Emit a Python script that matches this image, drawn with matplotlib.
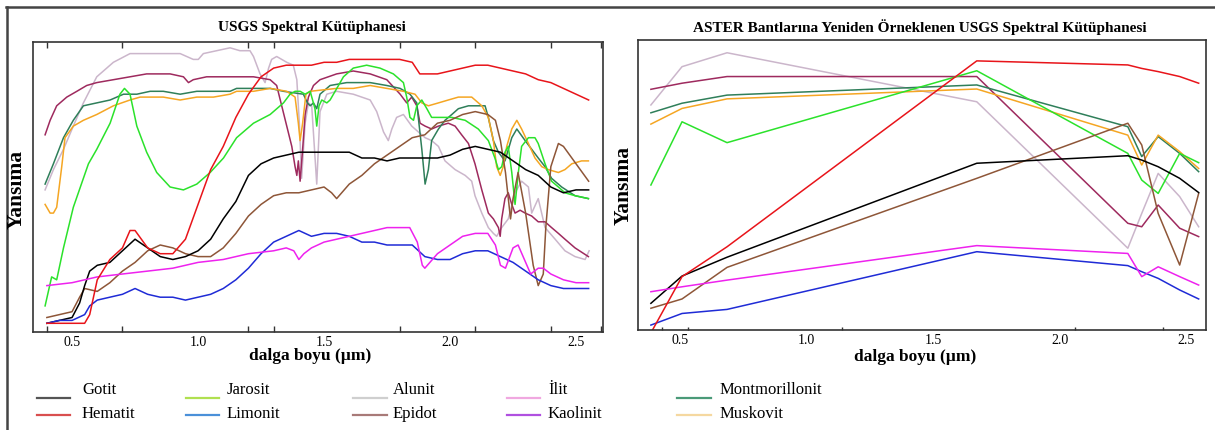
import matplotlib.pyplot as plt
from matplotlib.lines import Line2D
import numpy as np

plt.rcParams['font.family'] = ['Liberation Serif', 'DejaVu Serif']

W, H = 1215, 430

minerals = ["Gotit", "Hematit", "Jarosit", "Limonit", "Alunit",
            "Epidot", "İlit", "Kaolinit", "Montmorillonit", "Muskovit"]

# colours of the plotted spectra
line_colors = {"Gotit": "#000000", "Hematit": "#e8141a", "Jarosit": "#2be22b",
               "Limonit": "#1f2bd6", "Alunit": "#cbb6cb", "Epidot": "#8e5638",
               "İlit": "#ee22ee", "Kaolinit": "#9e2a5e", "Montmorillonit": "#2f7f5a",
               "Muskovit": "#f5a623"}
# the legend swatches in the original don't match the line colours exactly
legend_colors = {"Gotit": "#555555", "Hematit": "#d94f4f", "Jarosit": "#b0e050",
                 "Limonit": "#4a90d9", "Alunit": "#cfcfcf", "Epidot": "#a87a78",
                 "İlit": "#f0a8e0", "Kaolinit": "#b050e0", "Montmorillonit": "#4a9a78",
                 "Muskovit": "#f5d8a0"}

#### USGS library spectra, (wavelength um, reflectance %) ####
gotit = [(0.40,3),(0.45,4),(0.50,5),(0.53,10),(0.55,16),(0.57,21),(0.60,23),(0.65,24),(0.70,28),
         (0.75,32),(0.80,29),(0.85,26),(0.90,25),(0.95,26),(1.00,28),(1.05,32),(1.10,39),(1.15,45),
         (1.20,54),(1.25,58),(1.30,60),(1.35,61),(1.40,62),(1.45,62),(1.50,62),(1.55,62),(1.60,62),
         (1.65,60),(1.70,60),(1.75,59),(1.80,60),(1.85,60),(1.90,60),(1.95,60),(2.00,61),(2.05,63),
         (2.10,64),(2.15,63),(2.20,62),(2.25,59),(2.30,56),(2.35,54),(2.40,50),(2.45,48),(2.50,49),
         (2.55,49)]
hematit = [(0.40,3),(0.45,3),(0.50,3),(0.55,3),(0.57,6),(0.60,18),(0.65,25),(0.70,29),(0.73,35),
           (0.75,35),(0.80,29),(0.85,27),(0.90,27),(0.95,32),(1.00,44),(1.05,56),(1.10,64),(1.15,74),
           (1.20,82),(1.25,88),(1.30,91),(1.35,92),(1.40,92),(1.45,92),(1.50,93),(1.55,93),(1.60,94),
           (1.65,94),(1.70,94),(1.75,94),(1.80,94),(1.85,93),(1.88,89),(1.90,89),(1.95,89),(2.00,90),
           (2.05,91),(2.10,92),(2.15,92),(2.20,91),(2.25,90),(2.30,89),(2.35,87),(2.40,86),(2.45,84),
           (2.50,82),(2.55,80)]
jarosit = [(0.393,9),(0.419,19),(0.439,18),(0.466,29),(0.505,43),(0.565,58),(0.598,63),(0.651,72),
           (0.690,82),(0.708,84),(0.730,82),(0.757,71),(0.796,62),(0.836,55),(0.889,50),(0.942,49),
           (0.995,51),(1.048,55),(1.101,60),(1.153,67),(1.220,72),(1.286,75),(1.339,79),(1.365,82),
           (1.385,83),(1.405,83),(1.425,82),(1.445,83),(1.464,77),(1.471,71),(1.480,78),(1.491,80),
           (1.511,79),(1.524,80),(1.544,83),(1.577,88),(1.616,91),(1.669,92),(1.722,91),(1.775,89),
           (1.815,86),(1.828,81),(1.841,74),(1.855,73),(1.868,78),(1.888,80),(1.908,77),(1.927,74),
           (1.954,74),(2.007,74),(2.060,73),(2.112,70),(2.152,66),(2.178,60),(2.192,56),(2.205,57),
           (2.218,62),(2.231,64),(2.245,55),(2.258,44),(2.271,55),(2.284,64),(2.311,67),(2.337,67),
           (2.350,65),(2.377,58),(2.403,52),(2.430,50),(2.456,48),(2.496,47),(2.549,46)]
limonit = [(0.40,3),(0.45,4),(0.50,4),(0.55,6),(0.57,9),(0.60,11),(0.65,12),(0.70,13),(0.75,15),
           (0.80,13),(0.85,12),(0.90,12),(0.95,11),(1.00,12),(1.05,13),(1.10,15),(1.15,18),(1.20,22),
           (1.25,27),(1.30,31),(1.35,33),(1.40,35),(1.45,33),(1.50,34),(1.55,34),(1.60,33),(1.65,31),
           (1.70,31),(1.75,30),(1.80,30),(1.85,30),(1.90,26),(1.95,25),(2.00,25),(2.05,27),(2.10,28),
           (2.15,28),(2.20,26),(2.25,24),(2.30,21),(2.35,18),(2.40,16),(2.45,15),(2.50,15),(2.55,15)]
alunit = [(0.393,49),(0.426,56),(0.466,63),(0.505,71),(0.545,79),(0.598,88),(0.664,93),(0.730,96),
          (0.796,96),(0.862,96),(0.929,96),(0.981,94),(1.001,94),(1.021,96),(1.074,97),(1.127,98),
          (1.166,97),(1.193,97),(1.206,97),(1.220,95),(1.246,89),(1.266,86),(1.280,91),(1.292,94),
          (1.312,95),(1.352,93),(1.378,92),(1.392,87),(1.402,72),(1.411,53),(1.425,72),(1.438,79),
          (1.451,78),(1.471,51),(1.484,76),(1.511,82),(1.550,83),(1.616,82),(1.683,80),(1.709,76),
          (1.736,69),(1.755,66),(1.769,70),(1.788,74),(1.815,75),(1.848,71),(1.874,69),(1.901,67),
          (1.927,66),(1.954,64),(1.980,59),(2.020,56),(2.060,54),(2.086,52),(2.099,47),(2.126,41),
          (2.152,36),(2.172,34),(2.185,33),(2.205,36),(2.231,39),(2.258,48),(2.284,52),(2.311,50),
          (2.324,41),(2.350,46),(2.377,36),(2.417,32),(2.456,28),(2.496,26),(2.536,25),(2.552,28)]
epidot = [(0.40,5),(0.45,6),(0.50,7),(0.53,12),(0.55,15),(0.60,14),(0.65,17),(0.70,21),(0.75,24),
          (0.80,28),(0.85,30),(0.90,29),(0.95,27),(1.00,26),(1.05,26),(1.10,29),(1.15,34),(1.20,40),
          (1.25,44),(1.30,47),(1.35,48),(1.40,48),(1.45,49),(1.50,50),(1.53,48),(1.55,46),(1.60,51),
          (1.65,54),(1.70,58),(1.75,61),(1.80,64),(1.85,67),(1.90,68),(1.95,72),(2.00,73),(2.05,75),
          (2.10,76),(2.15,75),(2.18,73),(2.20,66),(2.22,55),(2.24,39),(2.25,46),(2.27,55),(2.30,41),
          (2.33,23),(2.35,16),(2.37,20),(2.38,36),(2.40,57),(2.43,65),(2.45,64),(2.50,58),(2.55,52)]
ilit = [(0.40,16),(0.50,17),(0.60,19),(0.70,20),(0.80,21),(0.90,22),(1.00,24),(1.10,25),(1.20,27),
        (1.30,28),(1.35,29),(1.38,28),(1.40,25),(1.42,27),(1.45,29),(1.50,31),(1.55,32),(1.60,33),
        (1.65,34),(1.70,35),(1.75,36),(1.80,36),(1.84,36),(1.87,31),(1.89,23),(1.90,22),(1.93,25),
        (1.95,27),(2.00,30),(2.05,33),(2.10,34),(2.15,34),(2.18,30),(2.20,23),(2.22,22),(2.25,29),
        (2.27,30),(2.30,24),(2.32,20),(2.35,22),(2.37,22),(2.40,20),(2.45,18),(2.50,17),(2.55,17)]
kaolinit = [(0.393,68),(0.413,73),(0.439,78),(0.479,81),(0.519,83),(0.558,85),(0.598,86),(0.664,87),
            (0.730,88),(0.796,89),(0.836,89),(0.889,89),(0.942,88),(0.962,86),(0.981,87),(1.034,88),
            (1.127,88),(1.220,88),(1.286,87),(1.312,85),(1.332,78),(1.352,71),(1.372,64),(1.385,57),
            (1.392,54),(1.398,59),(1.405,52),(1.415,63),(1.425,75),(1.438,81),(1.458,85),(1.484,87),
            (1.550,89),(1.616,90),(1.683,89),(1.749,87),(1.802,82),(1.828,79),(1.848,81),(1.868,78),
            (1.881,72),(1.901,71),(1.927,70),(1.954,71),(1.993,72),(2.020,71),(2.046,68),(2.073,65),
            (2.099,58),(2.126,49),(2.152,41),(2.172,39),(2.192,36),(2.199,33),(2.205,39),(2.218,46),
            (2.231,48),(2.245,44),(2.258,41),(2.278,42),(2.298,41),(2.324,40),(2.350,38),(2.377,38),
            (2.403,36),(2.430,34),(2.456,32),(2.496,29),(2.549,26)]
montmorillonit = [(0.393,51),(0.426,58),(0.466,67),(0.505,73),(0.545,78),(0.598,79),(0.651,80),
                  (0.704,82),(0.757,82),(0.810,83),(0.862,83),(0.929,82),(0.995,83),(1.061,83),
                  (1.127,83),(1.153,84),(1.220,84),(1.286,84),(1.339,83),(1.418,82),(1.434,79),
                  (1.445,78),(1.458,79),(1.471,77),(1.484,82),(1.524,85),(1.590,86),(1.683,86),
                  (1.749,85),(1.802,84),(1.841,82),(1.868,79),(1.874,74),(1.888,63),(1.901,51),
                  (1.914,56),(1.927,66),(1.954,70),(1.980,73),(2.007,75),(2.033,77),(2.073,78),
                  (2.112,78),(2.139,78),(2.152,74),(2.172,66),(2.192,62),(2.218,59),(2.245,67),
                  (2.265,70),(2.298,66),(2.324,63),(2.350,60),(2.377,57),(2.403,53),(2.443,50),
                  (2.496,47),(2.549,46)]
muskovit = [(0.393,44),(0.413,41),(0.426,41),(0.439,43),(0.459,57),(0.472,67),(0.505,71),(0.545,73),
            (0.598,75),(0.664,78),(0.730,80),(0.770,81),(0.862,81),(0.929,80),(0.995,81),(1.061,81),
            (1.127,82),(1.153,83),(1.220,83),(1.286,84),(1.352,83),(1.385,81),(1.398,72),(1.405,66),
            (1.415,72),(1.428,82),(1.445,83),(1.550,84),(1.616,84),(1.683,85),(1.749,84),(1.815,83),
            (1.861,82),(1.888,79),(1.914,78),(1.954,79),(1.993,80),(2.033,81),(2.086,81),(2.126,78),
            (2.152,74),(2.172,66),(2.185,57),(2.199,54),(2.211,57),(2.225,64),(2.245,70),(2.265,73),
            (2.284,70),(2.311,65),(2.337,60),(2.364,57),(2.390,56),(2.430,55),(2.456,56),(2.483,58),
            (2.522,59),(2.549,59)]

usgs = {"Gotit": gotit, "Hematit": hematit, "Jarosit": jarosit, "Limonit": limonit,
        "Alunit": alunit, "Epidot": epidot, "İlit": ilit, "Kaolinit": kaolinit,
        "Montmorillonit": montmorillonit, "Muskovit": muskovit}

#### Same library resampled to ASTER bands ####
aster_wl = [0.385, 0.508, 0.686, 1.673, 2.27, 2.325, 2.39, 2.475, 2.55]
aster_gotit = [9.2, 18.6, 25.1, 57.5, 60.1, 58.6, 56.3, 52.3, 47.4]
aster_hematit = [-1.0, 18.4, 28.7, 92.8, 91.4, 90.2, 89.1, 87.4, 85.1]
aster_jarosit = [50.0, 71.8, 64.6, 89.4, 60.9, 51.7, 47.1, 60.9, 57.7]
aster_limonit = [1.7, 5.7, 7.1, 27.0, 22.2, 20.1, 17.8, 13.8, 10.7]
aster_alunit = [77.6, 90.8, 95.6, 78.7, 28.2, 40.2, 54.0, 46.0, 35.6]
aster_epidot = [7.5, 10.7, 21.6, 52.3, 71.3, 63.8, 40.2, 22.4, 47.1]
aster_ilit = [13.2, 14.9, 17.2, 29.1, 26.4, 18.4, 21.8, 18.4, 15.5]
aster_kaolinit = [83.0, 85.1, 87.4, 87.4, 36.8, 35.6, 43.1, 35.1, 32.2]
aster_montmorillonit = [74.9, 78.2, 81.0, 84.5, 70.1, 59.8, 66.7, 60.9, 54.6]
aster_muskovit = [71.0, 76.4, 79.7, 83.1, 67.2, 56.9, 67.2, 61.5, 55.7]

aster = {"Gotit": aster_gotit, "Hematit": aster_hematit, "Jarosit": aster_jarosit,
         "Limonit": aster_limonit, "Alunit": aster_alunit, "Epidot": aster_epidot,
         "İlit": aster_ilit, "Kaolinit": aster_kaolinit,
         "Montmorillonit": aster_montmorillonit, "Muskovit": aster_muskovit}

tick_vals = [0.5, 1.0, 1.5, 2.0, 2.5]
tick_labels = ["0.5", "1.0", "1.5", "2.0", "2.5"]

# drawing order (last one ends up on top)
draw_order = ["Alunit", "Kaolinit", "Montmorillonit", "Muskovit", "Jarosit",
              "Epidot", "Gotit", "Limonit", "İlit", "Hematit"]

fig = plt.figure(figsize=(W / 100, H / 100), dpi=100)
ax1 = fig.add_axes([33 / W, 1 - 332 / H, 570 / W, 290 / H])
ax2 = fig.add_axes([638 / W, 1 - 330 / H, 568 / W, 290 / H])

for m in draw_order:
    arr = np.array(usgs[m])
    ax1.plot(arr[:, 0], arr[:, 1], color=line_colors[m], lw=1.1)
    ax2.plot(aster_wl, aster[m], color=line_colors[m], lw=1.1)

ax1.set_xlim(0.345, 2.607)
ax2.set_xlim(0.334, 2.579)

for ax, minors, mlen in [(ax1, [0.4, 0.7, 1.0, 1.2, 1.3, 1.8, 2.1, 2.4, 2.6], 4),
                         (ax2, [0.43, 0.53, 1.14, 2.06, 2.41], 2)]:
    ax.set_ylim(0, 100)
    ax.set_yticks([])
    ax.set_xticks(tick_vals)
    ax.set_xticklabels(tick_labels, fontsize=10)
    ax.set_xticks(minors, minor=True)
    ax.tick_params(axis='x', which='major', length=0, pad=3)
    ax.tick_params(axis='x', which='minor', length=mlen, width=1, direction='in',
                   top=(ax is ax1), bottom=True, color='#333333')
    for s in ax.spines.values():
        s.set_color('#333333')
        s.set_linewidth(1.2)

# titles and axis labels
fig.text(312 / W, 1 - 28 / H, "USGS Spektral Kütüphanesi", ha='center', va='center',
         fontsize=11, fontweight='bold')
fig.text(920 / W, 1 - 27 / H, "ASTER Bantlarına Yeniden Örneklenen USGS Spektral Kütüphanesi",
         ha='center', va='center', fontsize=11, fontweight='bold')
fig.text(310 / W, 1 - 356 / H, "dalga boyu (µm)", ha='center', va='center',
         fontsize=12.5, fontweight='bold')
fig.text(915 / W, 1 - 357 / H, "dalga boyu (µm)", ha='center', va='center',
         fontsize=12.5, fontweight='bold')
fig.text(17 / W, 1 - 189 / H, "Yansıma", ha='center', va='center', rotation=90,
         fontsize=15.5, fontweight='bold')
fig.text(624 / W, 1 - 185 / H, "Yansıma", ha='center', va='center', rotation=90,
         fontsize=15.5, fontweight='bold')

# legend, drawn by hand because the columns are unevenly spaced
cols = [(37, 70, 82), (186, 219, 227), (353, 387, 393), (507, 540, 548), (677, 711, 720)]
handle_y = [398, 415]
text_y = [390, 414]
for i, (x0, x1, xt) in enumerate(cols):
    for r in range(2):
        m = minerals[2 * i + r]
        fig.add_artist(Line2D([x0 / W, x1 / W], [1 - handle_y[r] / H] * 2,
                              transform=fig.transFigure, color=legend_colors[m], lw=1.6))
        fig.text(xt / W, 1 - text_y[r] / H, m, ha='left', va='center', fontsize=12)

# outer frame (top and left edges only)
fig.add_artist(Line2D([6 / W, 1], [1 - 7 / H] * 2, transform=fig.transFigure,
                      color='#444444', lw=1.8))
fig.add_artist(Line2D([7 / W, 7 / W], [0, 1 - 7 / H], transform=fig.transFigure,
                      color='#444444', lw=1.8))

fig.savefig("out.png", dpi=100)
